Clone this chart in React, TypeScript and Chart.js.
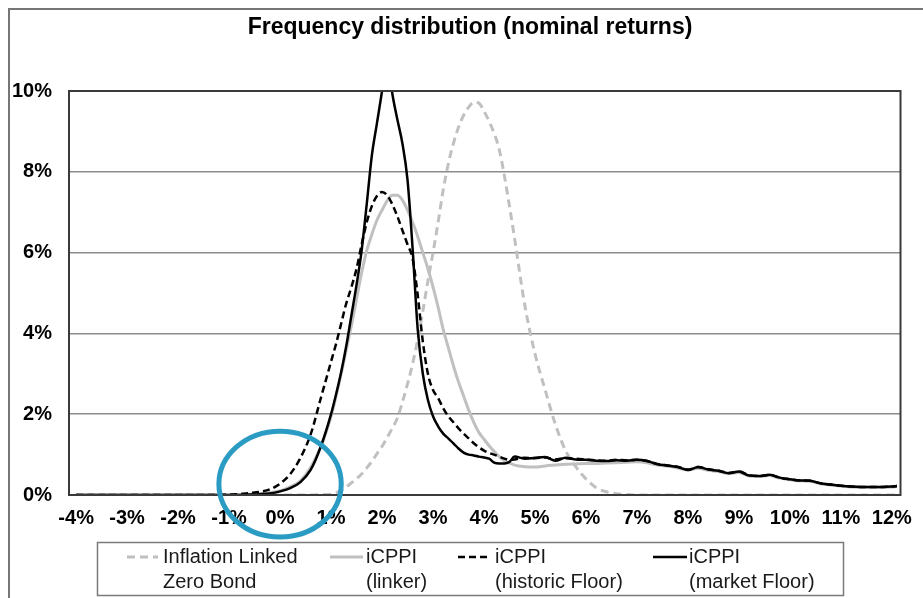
import React, { useEffect, useRef } from "react";
import { Chart, registerables } from "chart.js";

Chart.register(...registerables);

const FONT = "'Liberation Sans', Arial, Helvetica, sans-serif";

const TITLE = "Frequency distribution (nominal returns)";

// nominal return (%) at which each frequency value is given
const X = [
  -4, -3, -2, -1.5, -1, -0.8, -0.6, -0.4, -0.2, 0, 0.2, 0.4, 0.6, 0.8,
  1.0, 1.1, 1.2, 1.3, 1.4, 1.5, 1.6, 1.7, 1.8, 1.9,
  2.0, 2.1, 2.2, 2.3, 2.4, 2.5, 2.6, 2.7, 2.8, 2.9,
  3.0, 3.1, 3.2, 3.3, 3.4, 3.5, 3.6, 3.7, 3.8, 3.9,
  4.0, 4.1, 4.2, 4.3, 4.4, 4.5, 4.6,
  4.8, 5.0, 5.2, 5.4, 5.6, 5.8, 6.0, 6.2, 6.4, 6.6, 6.8, 7.0, 7.2, 7.4, 7.6, 7.8,
  8.0, 8.2, 8.4, 8.6, 8.8, 9.0, 9.2, 9.4, 9.6, 9.8, 10.0, 10.2, 10.4, 10.6, 10.8,
  11.0, 11.2, 11.4, 11.6, 11.8, 12.0,
  12.1,
];

const ILZB = [
  0, 0, 0, 0, 0, 0, 0, 0, 0, 0, 0, 0, 0, 0.01,
  0.02, 0.05, 0.12, 0.2, 0.3, 0.4, 0.52, 0.67, 0.83, 1.02,
  1.2, 1.42, 1.65, 1.9, 2.3, 2.75, 3.25, 3.85, 4.55, 5.3,
  6.0, 6.75, 7.55, 8.2, 8.7, 9.1, 9.4, 9.6, 9.72, 9.7,
  9.5, 9.25, 8.95, 8.55, 7.9, 7.15, 6.35,
  4.7, 3.5, 2.6, 1.75, 1.1, 0.7, 0.4, 0.18, 0.08, 0.03, 0.01, 0, 0, 0, 0, 0,
  0, 0, 0, 0, 0, 0, 0, 0, 0, 0, 0, 0, 0, 0, 0,
  0, 0, 0, 0, 0, 0,
  0,
];

const LINKER = [
  0, 0, 0, 0, 0, 0.01, 0.02, 0.03, 0.06, 0.1, 0.2, 0.35, 0.68, 1.2,
  1.95, 2.45, 3.0, 3.6, 4.2, 4.85, 5.5, 6.05, 6.45, 6.8,
  7.05, 7.28, 7.42, 7.42, 7.3, 7.05, 6.75, 6.4, 6.0, 5.6,
  5.15, 4.65, 4.1, 3.65, 3.2, 2.8, 2.45, 2.1, 1.8, 1.55,
  1.38, 1.22, 1.08, 0.95, 0.85, 0.79, 0.74,
  0.7, 0.69, 0.72, 0.74, 0.76, 0.77, 0.78, 0.78, 0.79, 0.8, 0.81, 0.82, 0.8, 0.74, 0.71, 0.67,
  0.62, 0.66, 0.61, 0.58, 0.53, 0.56, 0.47, 0.46, 0.48, 0.42, 0.38, 0.35, 0.34, 0.28, 0.25,
  0.22, 0.2, 0.19, 0.19, 0.19, 0.2,
  0.21,
];

const HISTORIC = [
  0, 0, 0, 0, 0.01, 0.02, 0.05, 0.08, 0.14, 0.28, 0.52, 0.92, 1.5, 2.4,
  3.3, 3.75, 4.25, 4.75, 5.15, 5.6, 6.2, 6.75, 7.15, 7.4,
  7.5, 7.42, 7.2, 6.9, 6.55, 6.2, 5.85, 4.95, 3.8, 3.0,
  2.6, 2.4, 2.15, 1.95, 1.8, 1.65, 1.52, 1.4, 1.28, 1.18,
  1.1, 1.04, 1.0, 0.95, 0.9, 0.87, 0.88,
  0.92, 0.91, 0.93, 0.88, 0.91, 0.9, 0.88, 0.86, 0.85, 0.87, 0.86, 0.87, 0.84, 0.77, 0.73, 0.7,
  0.63, 0.69, 0.64, 0.6, 0.55, 0.58, 0.49, 0.47, 0.5, 0.43, 0.39, 0.36, 0.35, 0.29, 0.26,
  0.23, 0.21, 0.2, 0.2, 0.2, 0.21,
  0.22,
];

const MARKET = [
  0, 0, 0, 0, 0, 0, 0.01, 0.02, 0.04, 0.09, 0.17, 0.32, 0.62, 1.2,
  2.0, 2.5, 3.05, 3.7, 4.45, 5.2, 6.05, 7.2, 8.4, 9.2,
  10.0, 10.9, 9.95, 9.3, 8.7, 7.8, 6.1, 4.1, 3.0, 2.35,
  1.95, 1.7, 1.52, 1.4, 1.28, 1.15, 1.05, 1.0, 0.98, 0.95,
  0.93, 0.9, 0.8, 0.78, 0.78, 0.82, 0.95,
  0.9, 0.92, 0.94, 0.85, 0.92, 0.88, 0.87, 0.85, 0.84, 0.86, 0.85, 0.87, 0.84, 0.76, 0.73, 0.69,
  0.62, 0.69, 0.63, 0.6, 0.54, 0.58, 0.48, 0.47, 0.5, 0.43, 0.39, 0.36, 0.35, 0.29, 0.26,
  0.23, 0.21, 0.2, 0.2, 0.2, 0.21,
  0.22,
];

const X_TICKS = [-4, -3, -2, -1, 0, 1, 2, 3, 4, 5, 6, 7, 8, 9, 10, 11, 12];
const Y_TICKS = [0, 2, 4, 6, 8, 10];

const LEGEND_LABELS = [
  ["Inflation Linked", "Zero Bond"],
  ["iCPPI", "(linker)"],
  ["iCPPI", "(historic Floor)"],
  ["iCPPI", "(market Floor)"],
];

// highlighted region (data units: % return, % frequency)
const HIGHLIGHT_X = 0;
const HIGHLIGHT_Y = 0.27;
const HIGHLIGHT_RX = 1.2;
const HIGHLIGHT_RY = 1.31;

const W = 915;
const H = 590;

const pts = (ys: number[]) => X.map((x, i) => ({ x, y: ys[i] }));

// layout (canvas px)
const TITLE_POS = { x: 462, y: 20 };
const LEG_BOX = { left: 89.5, top: 534.5, width: 746, height: 53 };
const LEG_ITEMS = [
  { x0: 119, x1: 150, tx: 155 },
  { x0: 322, x1: 355, tx: 358 },
  { x0: 450, x1: 481, tx: 487 },
  { x0: 645, x1: 679, tx: 681 },
];
const LEG_LINE1 = 549;
const LEG_LINE2 = 574;

const framePlugin = {
  id: "frame",
  beforeDraw(chart: any) {
    const ctx = chart.ctx;
    ctx.save();
    ctx.fillStyle = "#ffffff";
    ctx.fillRect(0, 0, chart.width, chart.height);
    ctx.strokeStyle = "#767676";
    ctx.lineWidth = 2;
    ctx.strokeRect(1, 1, chart.width + 20, chart.height + 20);
    // title
    ctx.fillStyle = "#000000";
    ctx.font = `bold 23px ${FONT}`;
    ctx.textAlign = "center";
    ctx.textBaseline = "middle";
    ctx.fillText(TITLE, TITLE_POS.x, TITLE_POS.y);
    ctx.restore();
  },
  afterDatasetsDraw(chart: any) {
    const { left, top, right, bottom } = chart.chartArea;
    const ctx = chart.ctx;
    ctx.save();
    ctx.strokeStyle = "#3a3a3a";
    ctx.lineWidth = 2;
    ctx.strokeRect(left, top, right - left, bottom - top);
    ctx.restore();
  },
  afterDraw(chart: any) {
    const ctx = chart.ctx;
    ctx.save();
    // legend box
    ctx.strokeStyle = "#7a7a7a";
    ctx.lineWidth = 1.5;
    ctx.strokeRect(LEG_BOX.left, LEG_BOX.top, LEG_BOX.width, LEG_BOX.height);
    chart.data.datasets.forEach((ds: any, i: number) => {
      const it = LEG_ITEMS[i];
      ctx.beginPath();
      ctx.setLineDash(ds.borderDash || []);
      ctx.strokeStyle = ds.borderColor;
      ctx.lineWidth = ds.borderWidth;
      ctx.moveTo(it.x0, LEG_LINE1);
      ctx.lineTo(it.x1, LEG_LINE1);
      ctx.stroke();
      ctx.setLineDash([]);
      ctx.fillStyle = "#1a1a1a";
      ctx.font = `20px ${FONT}`;
      ctx.textBaseline = "middle";
      ctx.textAlign = "left";
      const lines = LEGEND_LABELS[i];
      ctx.fillText(lines[0], it.tx, LEG_LINE1);
      ctx.fillText(lines[1], it.tx, LEG_LINE2);
    });
    // highlight ellipse
    const xs = chart.scales.x;
    const ys = chart.scales.y;
    const cx = xs.getPixelForValue(HIGHLIGHT_X);
    const cy = ys.getPixelForValue(HIGHLIGHT_Y);
    const rx = Math.abs(xs.getPixelForValue(HIGHLIGHT_X + HIGHLIGHT_RX) - cx);
    const ry = Math.abs(ys.getPixelForValue(HIGHLIGHT_Y + HIGHLIGHT_RY) - cy);
    ctx.beginPath();
    ctx.ellipse(cx, cy, rx, ry, 0, 0, Math.PI * 2);
    ctx.strokeStyle = "#2a9bc2";
    ctx.lineWidth = 5;
    ctx.stroke();
    ctx.restore();
  },
};

export default function App() {
  const ref = useRef<HTMLCanvasElement | null>(null);

  useEffect(() => {
    if (!ref.current) return;
    const tickFont = { family: FONT, size: 20, weight: "bold" as const };
    const chart = new Chart(ref.current, {
      type: "line",
      data: {
        datasets: [
          {
            label: LEGEND_LABELS[0].join(" "),
            data: pts(ILZB),
            borderColor: "#c0c0c0",
            borderWidth: 3,
            borderDash: [8, 5],
            order: 3,
          },
          {
            label: LEGEND_LABELS[1].join(" "),
            data: pts(LINKER),
            borderColor: "#c0c0c0",
            borderWidth: 3,
            borderDash: [],
            order: 2,
          },
          {
            label: LEGEND_LABELS[2].join(" "),
            data: pts(HISTORIC),
            borderColor: "#000000",
            borderWidth: 2.5,
            borderDash: [7, 4],
            order: 1,
          },
          {
            label: LEGEND_LABELS[3].join(" "),
            data: pts(MARKET),
            borderColor: "#000000",
            borderWidth: 2.5,
            borderDash: [],
            order: 0,
          },
        ] as any,
      },
      options: {
        responsive: false,
        animation: false,
        devicePixelRatio: 1,
        elements: {
          point: { radius: 0, hoverRadius: 0 },
          line: { cubicInterpolationMode: "monotone", fill: false },
        },
        layout: { padding: { left: 0, right: 14, top: 83, bottom: 63 } },
        plugins: {
          legend: { display: false },
          tooltip: { enabled: false },
          title: { display: false },
        },
        scales: {
          x: {
            type: "linear",
            min: -4.14,
            max: 12.17,
            grid: { display: false, drawTicks: false },
            border: { display: false },
            afterBuildTicks: (s: any) => {
              s.ticks = X_TICKS.map((v) => ({ value: v }));
            },
            afterFit: (s: any) => {
              s.height = 40;
            },
            ticks: {
              autoSkip: false,
              maxRotation: 0,
              padding: 11,
              color: "#000000",
              font: tickFont,
              callback: (v: any) => `${v}%`,
            },
          },
          y: {
            min: 0,
            max: 10,
            grid: { color: "#8c8c8c", lineWidth: 1.5, drawTicks: false },
            border: { display: false },
            afterBuildTicks: (s: any) => {
              s.ticks = Y_TICKS.map((v) => ({ value: v }));
            },
            afterFit: (s: any) => {
              s.width = 61;
            },
            ticks: {
              padding: 17,
              color: "#000000",
              font: tickFont,
              callback: (v: any) => `${v}%`,
            },
          },
        },
      },
      plugins: [framePlugin],
    });
    return () => chart.destroy();
  }, []);

  return (
    <div style={{ position: "fixed", left: 8, top: 8, width: W, height: H }}>
      <canvas ref={ref} width={W} height={H} style={{ display: "block", width: W, height: H }} />
    </div>
  );
}
